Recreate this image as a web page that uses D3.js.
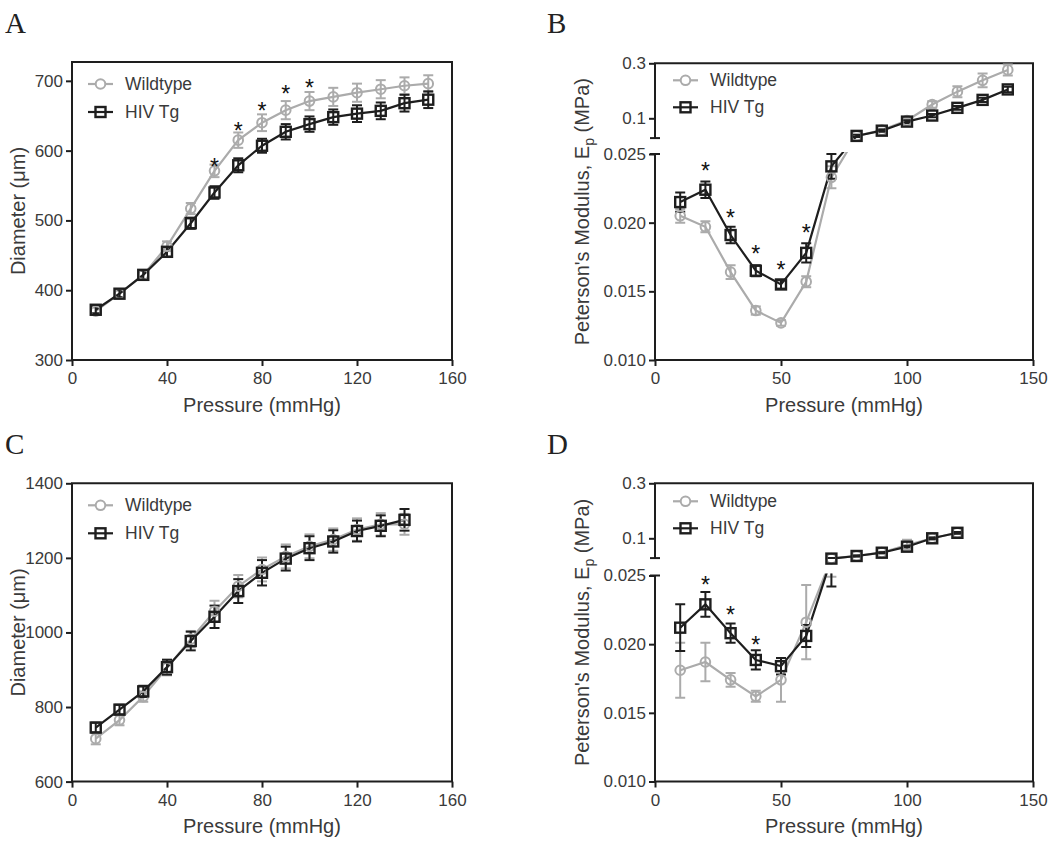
<!DOCTYPE html>
<html><head><meta charset="utf-8">
<script src="https://cdn.jsdelivr.net/npm/d3@7"></script>
<style>body{margin:0;background:#fff}</style>
</head><body><svg id="c" width="1050" height="846"></svg>
<script>
// ---------- DATA ----------
const seriesNames = ["Wildtype", "HIV Tg"];
const panelLetters = ["A", "B", "C", "D"];

// Panel A: diameter vs pressure
const pressureA = [10,20,30,40,50,60,70,80,90,100,110,120,130,140,150];
const diamA_WT    = [370,395,422,463,517,571,615,640,658,671,677,683,688,693,696];
const diamA_WTerr = [5,5,6,7,8,9,11,12,13,13,13,13,13,12,12];
const diamA_Tg    = [372,395,422,455,496,540,579,607,627,638,648,653,657,668,673];
const diamA_Tgerr = [5,5,6,7,8,9,10,10,11,11,11,12,12,12,12];
const starsA_x = [60,70,80,90,100];
const starsA_y = [584,635,664,688,697];

// Panel B: Peterson's modulus vs pressure
const pressureB = [10,20,30,40,50,60,70,80,90,100,110,120,130,140];
const modB_WT    = [0.0205,0.0197,0.0164,0.0136,0.0127,0.0157,0.0233,0.036,0.057,0.092,0.150,0.197,0.238,0.276];
const modB_WTerr = [0.0005,0.0004,0.0005,0.0003,0.0002,0.0004,0.0008,0.004,0.005,0.006,0.012,0.02,0.025,0.02];
const modB_Tg    = [0.0215,0.0224,0.0191,0.0165,0.0155,0.0178,0.0241,0.036,0.055,0.088,0.110,0.138,0.167,0.205];
const modB_Tgerr = [0.0007,0.0006,0.0006,0.0004,0.0003,0.0007,0.0009,0.004,0.004,0.005,0.006,0.007,0.008,0.01];
const starsB_x = [20,30,40,50,60];
const starsB_y = [0.0241,0.0207,0.0181,0.0169,0.0196];

// Panel C: diameter vs pressure
const pressureC = [10,20,30,40,50,60,70,80,90,100,110,120,130,140];
const diamC_WT    = [715,765,828,905,982,1057,1124,1169,1204,1231,1249,1276,1290,1290];
const diamC_WTerr = [15,14,14,20,22,28,30,32,32,32,30,30,30,28];
const diamC_Tg    = [745,793,842,907,977,1042,1111,1160,1198,1226,1244,1272,1286,1302];
const diamC_Tgerr = [13,13,15,20,25,30,32,34,32,32,30,28,28,29];

// Panel D: Peterson's modulus vs pressure
const pressureD = [10,20,30,40,50,60,70,80,90,100,110,120];
const modD_WT    = [0.0181,0.0187,0.0174,0.0162,0.0174,0.0216,0.0262,0.036,0.048,0.075,0.100,0.120];
const modD_WTerr = [0.002,0.0014,0.0005,0.0004,0.0016,0.0027,0.0013,0.003,0.003,0.02,0.004,0.003];
const modD_Tg    = [0.0212,0.0229,0.0208,0.01885,0.0184,0.0206,0.0262,0.0357,0.0476,0.0695,0.100,0.120];
const modD_Tgerr = [0.0017,0.0009,0.0007,0.0007,0.0006,0.0008,0.002,0.002,0.002,0.003,0.003,0.003];
const starsD_x = [20,30,40];
const starsD_y = [0.0247,0.0225,0.0203];

// Axis ticks / labels
const xTicksDiam = [0,40,80,120,160];
const xTicksMod  = [0,50,100,150];
const yTicksA = [300,400,500,600,700];
const yTicksC = [600,800,1000,1200,1400];
const yTicksModLow  = [0.010,0.015,0.020,0.025];
const yTicksModHigh = [0.1,0.3];
const xTitle = "Pressure (mmHg)";
const yTitleDiam = "Diameter (\u03bcm)";
const yTitleMod = ["Peterson's Modulus, E", "p", " (MPa)"];

// ---------- STYLE ----------
const FONT = '"Liberation Sans", Arial, Helvetica, sans-serif';
const SERIF = '"Liberation Serif", "Times New Roman", serif';
const INK = "#1e1e1e", TXT = "#3a3a3a", GRAY = "#ababab";
const TICK_FS = 17, TITLE_FS = 20, LEG_FS = 17.5;

const svg = d3.select("#c");

function drawPanel(o, idx) {
  const g = svg.append("g");
  const x = d3.scaleLinear().domain(o.xDomain).range([o.left, o.right]);
  let y, yLow, yUp;
  const upBottom = o.top + 74.8, lowTop = o.bottom - 206;
  if (!o.broken) {
    y = d3.scaleLinear().domain(o.yDomain).range([o.bottom, o.top]);
  } else {
    yLow = d3.scaleLinear().domain([0.010, 0.025]).range([o.bottom, lowTop]);
    yUp = d3.scaleLinear().domain([0.028, 0.3]).range([upBottom, o.top]);
    y = v => (v > 0.025 ? yUp(v) : yLow(v));
  }

  // clip for lines / error bars
  const clipId = "clip" + idx;
  const cp = svg.append("clipPath").attr("id", clipId);
  if (!o.broken) {
    cp.append("rect").attr("x", o.left).attr("y", o.top - 20)
      .attr("width", o.right - o.left).attr("height", o.bottom - o.top + 20);
  } else {
    cp.append("rect").attr("x", o.left).attr("y", o.top - 10)
      .attr("width", o.right - o.left).attr("height", upBottom - o.top + 11);
    cp.append("rect").attr("x", o.left).attr("y", lowTop - 2)
      .attr("width", o.right - o.left).attr("height", o.bottom - lowTop + 2);
  }

  // frame & axes lines
  const fr = g.append("g").attr("stroke", INK).attr("stroke-width", 2).attr("fill", "none");
  fr.append("line").attr("x1", o.left - 1).attr("x2", o.right + 1).attr("y1", o.top).attr("y2", o.top);
  fr.append("line").attr("x1", o.right).attr("x2", o.right).attr("y1", o.top).attr("y2", o.bottom);
  fr.append("line").attr("x1", o.left - 1).attr("x2", o.right + 1).attr("y1", o.bottom).attr("y2", o.bottom);
  if (!o.broken) {
    fr.append("line").attr("x1", o.left).attr("x2", o.left).attr("y1", o.top).attr("y2", o.bottom);
  } else {
    fr.append("line").attr("x1", o.left).attr("x2", o.left).attr("y1", o.top).attr("y2", upBottom);
    fr.append("line").attr("x1", o.left).attr("x2", o.left).attr("y1", lowTop).attr("y2", o.bottom);
    fr.append("line").attr("x1", o.left - 5).attr("x2", o.left + 5).attr("y1", upBottom).attr("y2", upBottom);
    fr.append("line").attr("x1", o.left - 5).attr("x2", o.left + 5).attr("y1", lowTop).attr("y2", lowTop);
  }

  function styleAxis(sel) {
    sel.attr("font-family", FONT).attr("font-size", TICK_FS);
    sel.select(".domain").remove();
    sel.selectAll("line").attr("stroke", INK).attr("stroke-width", 2);
    sel.selectAll("text").attr("fill", TXT);
  }
  // x axis
  g.append("g").attr("transform", `translate(0,${o.bottom})`)
    .call(d3.axisBottom(x).tickValues(o.xTicks).tickSize(6).tickPadding(6).tickFormat(d3.format("d")))
    .call(styleAxis);
  // y axis
  if (!o.broken) {
    g.append("g").attr("transform", `translate(${o.left},0)`)
      .call(d3.axisLeft(y).tickValues(o.yTicks).tickSize(6).tickPadding(3).tickFormat(d3.format("d")))
      .call(styleAxis);
  } else {
    g.append("g").attr("transform", `translate(${o.left},0)`)
      .call(d3.axisLeft(yLow).tickValues(yTicksModLow).tickSize(6).tickPadding(3).tickFormat(d3.format(".3f")))
      .call(styleAxis);
    g.append("g").attr("transform", `translate(${o.left},0)`)
      .call(d3.axisLeft(yUp).tickValues(yTicksModHigh).tickSize(6).tickPadding(3).tickFormat(d3.format(".1f")))
      .call(styleAxis);
  }

  // series
  const dataG = g.append("g").attr("clip-path", `url(#${clipId})`);
  const markG = g.append("g");
  function series(xs, ys, es, color, kind) {
    const line = d3.line().x((d, i) => x(xs[i])).y(d => y(d));
    dataG.append("path").datum(ys).attr("d", line)
      .attr("fill", "none").attr("stroke", color).attr("stroke-width", 2.2);
    const eb = dataG.append("g").attr("stroke", color).attr("stroke-width", 2);
    ys.forEach((v, i) => {
      const cx = x(xs[i]), y1 = y(v - es[i]), y2 = y(v + es[i]);
      eb.append("line").attr("x1", cx).attr("x2", cx).attr("y1", y1).attr("y2", y2);
      eb.append("line").attr("x1", cx - 5).attr("x2", cx + 5).attr("y1", y1).attr("y2", y1);
      eb.append("line").attr("x1", cx - 5).attr("x2", cx + 5).attr("y1", y2).attr("y2", y2);
    });
    ys.forEach((v, i) => {
      const cx = x(xs[i]), cy = y(v);
      if (kind === "circle") {
        markG.append("circle").attr("cx", cx).attr("cy", cy).attr("r", 4.8)
          .attr("fill", "none").attr("stroke", color).attr("stroke-width", 2);
      } else {
        markG.append("rect").attr("x", cx - 5).attr("y", cy - 5).attr("width", 10).attr("height", 10)
          .attr("fill", "none").attr("stroke", color).attr("stroke-width", 2.4);
      }
    });
  }
  series(o.p, o.wt, o.wtErr, GRAY, "circle");
  series(o.p, o.tg, o.tgErr, INK, "square");

  // stars
  if (o.starsX) {
    o.starsX.forEach((sx, i) => {
      g.append("text").attr("x", x(sx)).attr("y", y(o.starsY[i]) + 13)
        .attr("text-anchor", "middle").attr("font-family", FONT).attr("font-size", 23)
        .attr("fill", "#111").text("*");
    });
  }

  // legend
  const legend = [
    { name: seriesNames[0], color: GRAY, kind: "circle" },
    { name: seriesNames[1], color: INK, kind: "square" }
  ];
  legend.forEach((L, i) => {
    const ly = o.top + o.legendDy[i], lx = o.legendX;
    g.append("line").attr("x1", lx).attr("x2", lx + 25).attr("y1", ly).attr("y2", ly)
      .attr("stroke", L.color).attr("stroke-width", 2.2);
    if (L.kind === "circle") {
      g.append("circle").attr("cx", lx + 12.5).attr("cy", ly).attr("r", 4.8)
        .attr("fill", "#fff").attr("stroke", L.color).attr("stroke-width", 2);
    } else {
      g.append("rect").attr("x", lx + 7.5).attr("y", ly - 5).attr("width", 10).attr("height", 10)
        .attr("fill", "none").attr("stroke", L.color).attr("stroke-width", 2.4);
    }
    g.append("text").attr("x", lx + 37).attr("y", ly).attr("dy", "0.35em")
      .attr("font-family", FONT).attr("font-size", LEG_FS).attr("fill", TXT).text(L.name);
  });

  // titles
  g.append("text").attr("x", (o.left + o.right) / 2).attr("y", o.bottom + 51.5)
    .attr("text-anchor", "middle").attr("font-family", FONT).attr("font-size", TITLE_FS)
    .attr("fill", TXT).text(xTitle);
  const yt = g.append("text")
    .attr("transform", `translate(${o.titleX},${(o.top + o.bottom) / 2}) rotate(-90)`)
    .attr("dy", "0.35em").attr("text-anchor", "middle")
    .attr("font-family", FONT).attr("font-size", TITLE_FS).attr("fill", TXT);
  if (!o.broken) {
    yt.text(yTitleDiam);
  } else {
    yt.append("tspan").text(yTitleMod[0]);
    yt.append("tspan").attr("font-size", TITLE_FS * 0.7).attr("dy", 5).text(yTitleMod[1]);
    yt.append("tspan").attr("dy", -5).text(yTitleMod[2]);
  }

  // panel letter
  svg.append("text").attr("x", o.letterX).attr("y", o.letterY)
    .attr("font-family", SERIF).attr("font-size", 29).attr("fill", "#222").text(panelLetters[idx]);
}

const panels = [
  { left: 72, right: 452, top: 62, bottom: 360, xDomain: [0, 160], xTicks: xTicksDiam,
    yDomain: [300, 727], yTicks: yTicksA, broken: false, titleX: 17.5, legendX: 88, legendDy: [22, 50],
    p: pressureA, wt: diamA_WT, wtErr: diamA_WTerr, tg: diamA_Tg, tgErr: diamA_Tgerr,
    starsX: starsA_x, starsY: starsA_y, letterX: 5, letterY: 33 },
  { left: 655, right: 1033, top: 63.3, bottom: 360, xDomain: [0, 150], xTicks: xTicksMod,
    broken: true, titleX: 582, legendX: 673, legendDy: [17, 44],
    p: pressureB, wt: modB_WT, wtErr: modB_WTerr, tg: modB_Tg, tgErr: modB_Tgerr,
    starsX: starsB_x, starsY: starsB_y, letterX: 547, letterY: 33 },
  { left: 72, right: 452, top: 483.3, bottom: 781.6, xDomain: [0, 160], xTicks: xTicksDiam,
    yDomain: [600, 1400], yTicks: yTicksC, broken: false, titleX: 17.5, legendX: 88, legendDy: [22, 50],
    p: pressureC, wt: diamC_WT, wtErr: diamC_WTerr, tg: diamC_Tg, tgErr: diamC_Tgerr,
    starsX: null, letterX: 5, letterY: 454 },
  { left: 655, right: 1033, top: 483.3, bottom: 781.5, xDomain: [0, 150], xTicks: xTicksMod,
    broken: true, titleX: 582, legendX: 673, legendDy: [18, 45],
    p: pressureD, wt: modD_WT, wtErr: modD_WTerr, tg: modD_Tg, tgErr: modD_Tgerr,
    starsX: starsD_x, starsY: starsD_y, letterX: 547, letterY: 454 }
];
panels.forEach(drawPanel);
</script>
</body></html>
